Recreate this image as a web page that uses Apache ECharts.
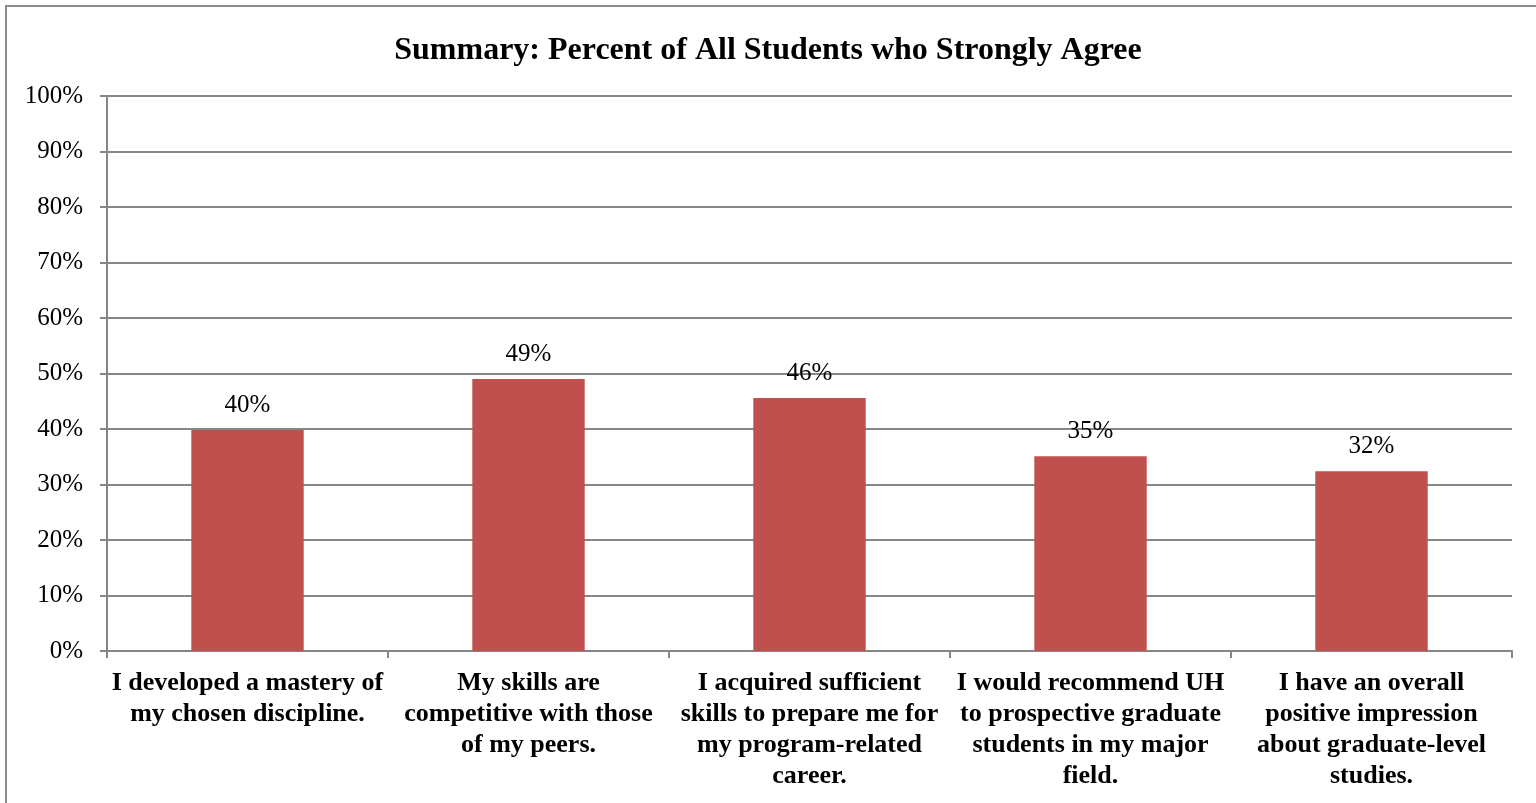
<!DOCTYPE html>
<html>
<head>
<meta charset="utf-8">
<script src="https://cdn.jsdelivr.net/npm/echarts@6/dist/echarts.min.js"></script>
<style>
html,body{margin:0;padding:0;background:#fff;}
#frame{position:absolute;left:5px;top:5px;width:1540px;height:810px;border:2px solid #8c8c8c;box-sizing:border-box;}
#chart{position:absolute;left:0;top:0;width:1536px;height:803px;}
</style>
</head>
<body>
<div id="frame"></div>
<div id="chart"></div>
<script>
const categories = [
  "I developed a mastery of\nmy chosen discipline.",
  "My skills are\ncompetitive with those\nof my peers.",
  "I acquired sufficient\nskills to prepare me for\nmy program-related\ncareer.",
  "I would recommend UH\nto prospective graduate\nstudents in my major\nfield.",
  "I have an overall\npositive impression\nabout graduate-level\nstudies."
];
const values = [39.8, 49.0, 45.6, 35.1, 32.4];
const valueLabels = ["40%", "49%", "46%", "35%", "32%"];
const yTicks = [0, 10, 20, 30, 40, 50, 60, 70, 80, 90, 100];
const titleText = "Summary: Percent of All Students who Strongly Agree";

const font = "'Liberation Serif', 'Times New Roman', serif";
const chart = echarts.init(document.getElementById('chart'), null, {renderer: 'canvas'});
chart.setOption({
  animation: false,
  title: {
    text: titleText,
    left: 'center',
    top: 30,
    textStyle: {fontFamily: font, fontWeight: 'bold', fontSize: 32, color: '#000'}
  },
  grid: {left: 107, right: 24, top: 96, bottom: 152, containLabel: false},
  xAxis: {
    type: 'category',
    data: categories,
    axisLine: {lineStyle: {color: '#868686', width: 2}},
    axisTick: {show: true, alignWithLabel: false, length: 7, lineStyle: {color: '#868686', width: 2}},
    axisLabel: {
      interval: 0,
      margin: 17,
      fontFamily: font, fontWeight: 'bold', fontSize: 26, color: '#000',
      lineHeight: 31, align: 'center'
    }
  },
  yAxis: {
    type: 'value',
    min: 0, max: 100, interval: 10,
    axisLine: {show: true, lineStyle: {color: '#868686', width: 2}},
    axisTick: {show: true, length: 7, lineStyle: {color: '#868686', width: 2}},
    splitLine: {lineStyle: {color: '#868686', width: 2}},
    axisLabel: {
      fontFamily: font, fontSize: 25, color: '#000', margin: 24,
      formatter: function (v) { return yTicks.indexOf(v) >= 0 ? v + '%' : ''; }
    }
  },
  series: [{
    type: 'bar',
    data: values,
    barWidth: '40%',
    itemStyle: {color: '#C0504D'},
    label: {
      show: true,
      position: 'top',
      distance: 12,
      fontFamily: font, fontSize: 25, color: '#000',
      formatter: function (p) { return valueLabels[p.dataIndex]; }
    }
  }]
});
</script>
</body>
</html>
